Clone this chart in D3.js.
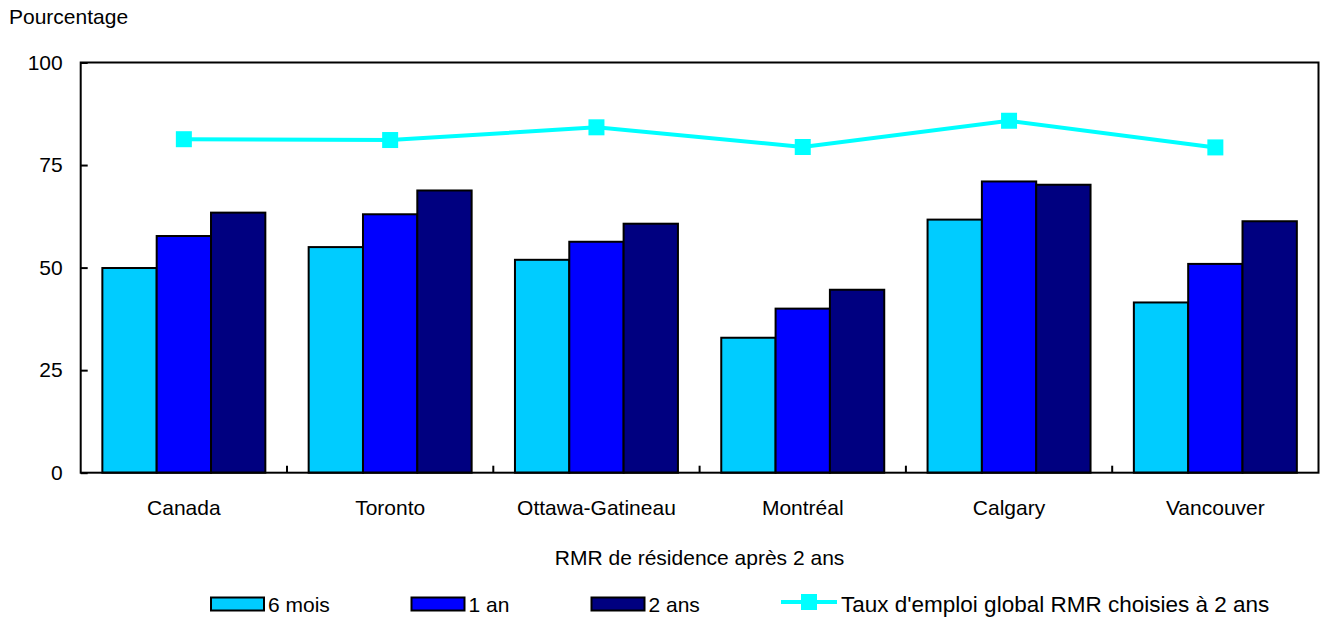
<!DOCTYPE html>
<html lang="fr">
<head>
<meta charset="utf-8">
<script src="https://cdn.jsdelivr.net/npm/d3@7"></script>
<style>
  html, body { margin: 0; padding: 0; background: #fff; }
  svg text { font-family: "Liberation Sans", Arial, Helvetica, sans-serif; fill: #000; }
</style>
</head>
<body>
<svg id="chart" width="1322" height="620"></svg>
<script>
// Taux d'emploi selon la durée, par RMR de résidence après 2 ans
const categories = ["Canada", "Toronto", "Ottawa-Gatineau", "Montréal", "Calgary", "Vancouver"];
const seriesNames = ["6 mois", "1 an", "2 ans"];
const sixMois = [49.9, 55.0, 51.9, 32.9, 61.7, 41.5];
const unAn = [57.7, 63.0, 56.3, 40.0, 71.0, 50.9];
const deuxAns = [63.4, 68.8, 60.7, 44.6, 70.2, 61.3];
const tauxGlobal = [81.3, 81.1, 84.2, 79.4, 85.8, 79.3];
const lineName = "Taux d'emploi global RMR choisies à 2 ans";
const yTicks = [0, 25, 50, 75, 100];
const yTitle = "Pourcentage";
const xTitle = "RMR de résidence après 2 ans";

const barColors = ["#00CCFF", "#0000FF", "#000080"];
const lineColor = "#00FFFF";
const seriesValues = [sixMois, unAn, deuxAns];
const fontSize = 21;

const svg = d3.select("#chart");
const plot = { left: 80.7, right: 1318.5, top: 62.5, bottom: 472.7 };

const x = d3.scaleBand().domain(categories).range([plot.left, plot.right]).paddingInner(0).paddingOuter(0);
const groupInner = 0.21;
const xSub = d3.scaleBand().domain(seriesNames)
  .range([x.bandwidth() * groupInner / 2, x.bandwidth() * (1 - groupInner / 2)]).padding(0);
const y = d3.scaleLinear().domain([0, 100]).range([plot.bottom, plot.top]);

// Bars
const groups = svg.append("g").selectAll("g")
  .data(categories).join("g")
  .attr("transform", d => `translate(${x(d)},0)`);

groups.selectAll("rect")
  .data((c, i) => seriesNames.map((s, k) => ({ s, k, v: seriesValues[k][i] })))
  .join("rect")
  .attr("x", d => xSub(d.s))
  .attr("y", d => y(d.v))
  .attr("width", xSub.bandwidth())
  .attr("height", d => y(0) - y(d.v))
  .attr("fill", d => barColors[d.k])
  .attr("stroke", "#000")
  .attr("stroke-width", 2);

// Line series
const cx = c => x(c) + x.bandwidth() / 2;
const line = d3.line().x((d, i) => cx(categories[i])).y(d => y(d));
svg.append("path")
  .datum(tauxGlobal)
  .attr("d", line)
  .attr("fill", "none")
  .attr("stroke", lineColor)
  .attr("stroke-width", 4);

const ms = 16;
svg.append("g").selectAll("rect")
  .data(tauxGlobal).join("rect")
  .attr("x", (d, i) => cx(categories[i]) - ms / 2)
  .attr("y", d => y(d) - ms / 2)
  .attr("width", ms).attr("height", ms)
  .attr("fill", lineColor);

// Frame
svg.append("rect")
  .attr("x", plot.left).attr("y", plot.top)
  .attr("width", plot.right - plot.left).attr("height", plot.bottom - plot.top)
  .attr("fill", "none").attr("stroke", "#000").attr("stroke-width", 2);

// Y axis (ticks drawn inward)
const yAxis = d3.axisLeft(y).tickValues(yTicks).tickSizeInner(-7).tickSizeOuter(0).tickPadding(18);
const gy = svg.append("g").attr("transform", `translate(${plot.left},0)`).call(yAxis);
gy.select(".domain").remove();
gy.selectAll(".tick line").attr("stroke", "#000").attr("stroke-width", 2);
gy.selectAll(".tick text").attr("font-size", fontSize).attr("font-family", "Liberation Sans, Arial, sans-serif");

// X axis: inward ticks at band boundaries
const boundaries = categories.slice(1).map(c => x(c));
svg.append("g").selectAll("line")
  .data(boundaries).join("line")
  .attr("x1", d => d).attr("x2", d => d)
  .attr("y1", plot.bottom).attr("y2", plot.bottom - 7)
  .attr("stroke", "#000").attr("stroke-width", 2);

svg.append("g").selectAll("text")
  .data(categories).join("text")
  .attr("x", d => cx(d))
  .attr("y", 515)
  .attr("text-anchor", "middle")
  .attr("font-size", fontSize)
  .text(d => d);

// Titles
svg.append("text").attr("x", 9).attr("y", 24).attr("font-size", fontSize).text(yTitle);
svg.append("text").attr("x", (plot.left + plot.right) / 2).attr("y", 565)
  .attr("text-anchor", "middle").attr("font-size", fontSize).text(xTitle);

// Legend
const legendY = 604;
const swX = [211, 411.5, 591.5];
seriesNames.forEach((s, k) => {
  svg.append("rect")
    .attr("x", swX[k]).attr("y", legendY - 6.5)
    .attr("width", 53).attr("height", 13)
    .attr("fill", barColors[k]).attr("stroke", "#000").attr("stroke-width", 2);
  svg.append("text").attr("x", swX[k] + 57).attr("y", legendY + 8)
    .attr("font-size", fontSize).text(s);
});
svg.append("line")
  .attr("x1", 781).attr("x2", 837).attr("y1", legendY - 2).attr("y2", legendY - 2)
  .attr("stroke", lineColor).attr("stroke-width", 4);
svg.append("rect")
  .attr("x", 801).attr("y", legendY - 10).attr("width", 16).attr("height", 16)
  .attr("fill", lineColor);
svg.append("text").attr("x", 841).attr("y", legendY + 8).attr("font-size", 22.5).text(lineName);
</script>
</body>
</html>
